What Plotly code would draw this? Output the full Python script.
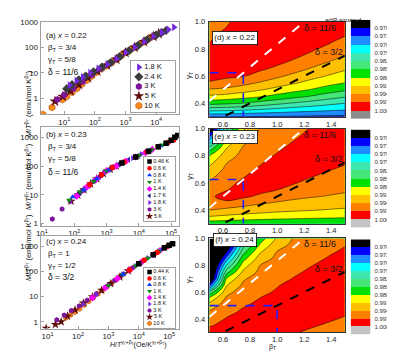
import plotly.graph_objects as go

W, H = 395, 351
FONT = "Liberation Sans, Arial, sans-serif"

# ======================= DATA =======================
# ---- panel (a)  x = 0.22 : M/T^beta vs H/T^(gamma+beta) ----
a_names = ["1.8 K", "2.4 K", "3 K", "5 K", "10 K"]
a_x_1p8 = [15, 25, 40, 70, 130, 250, 500, 1000, 2000, 4000, 8000, 15000, 25000, 38000]
a_y_1p8 = [3.3, 4.9, 6.9, 10.2, 14.8, 21.4, 35.5, 63, 100, 166, 269, 380, 500, 617]
a_x_2p4 = [12, 18, 30, 50, 90, 170, 330, 650, 1300, 2600, 5200, 10000, 15000, 21000]
a_y_2p4 = [2.4, 3.5, 5.4, 7.6, 11.2, 17, 25.7, 43.6, 74, 120, 204, 302, 380, 457]
a_x_3 = [6, 10, 20, 40, 80, 160, 320, 640, 1300, 2500, 5000, 10000, 16000]
a_y_3 = [0.91, 1.38, 2.45, 4.6, 8.5, 14.8, 24.5, 43, 74, 118, 195, 302, 389]
a_x_5 = [5, 9, 16, 30, 60, 120, 250, 500, 1000, 2000, 4000, 8000, 12000]
a_y_5 = [0.78, 1.2, 2.0, 3.5, 6.5, 11.7, 20, 34, 62, 100, 166, 269, 339]
a_x_10 = [2.0, 4.0, 8.7, 12, 18, 26, 38, 55, 80, 115, 165, 240, 350, 500, 720, 1000,
          1400, 2000, 2800, 3900, 5200, 7000]
a_y_10 = [0.24, 0.45, 0.91, 1.2, 1.78, 2.5, 3.7, 5.2, 7.6, 10.7, 14.5, 19, 25, 34, 47, 63,
          79, 100, 129, 162, 204, 251]

# ---- panel (b)  x = 0.23 ----
b_names = ["0.46 K", "0.6 K", "0.8 K", "1 K", "1.4 K", "1.7 K", "1.8 K", "3 K", "5 K"]
b_x_046 = [3000, 8000, 20000, 40000, 70000, 100000, 130000, 160000]
b_y_046 = [129, 209, 331, 468, 617, 794, 1000, 1148]
b_x_06 = [300, 700, 1500, 3500, 8000, 18000, 40000, 80000, 120000]
b_y_06 = [23, 50, 87, 138, 209, 316, 468, 661, 813]
b_x_08 = [90, 200, 500, 1200, 3000, 8000, 20000, 45000, 80000]
b_y_08 = [8.5, 15, 36, 74, 129, 209, 331, 501, 661]
b_x_1 = [70, 150, 400, 1000, 3000, 10000, 25000, 40000, 55000, 70000]
b_y_1 = [6.6, 13, 29.5, 68, 129, 234, 372, 468, 550, 617]
b_x_14 = [120, 250, 500, 1000, 2000, 4000, 8000, 16000, 26000]
b_y_14 = [9.1, 19, 36, 68, 100, 148, 209, 295, 380]
b_x_17 = [150, 300, 600, 1200, 2400, 4800, 9600, 18000]
b_y_17 = [11.5, 23, 43, 74, 112, 166, 229, 316]
b_x_18 = [200, 400, 800, 1600, 3200, 6400, 12000, 20000]
b_y_18 = [15, 29.5, 55, 89, 132, 190, 257, 331]
b_x_3 = [21, 42, 75, 120, 180, 280, 420, 650, 1000, 1585, 2512, 3548]
b_y_3 = [1.45, 3.2, 6.0, 9.5, 13.8, 20, 30, 45, 67.6, 89, 115, 138]
b_x_5 = [80, 130, 200, 320, 500, 800, 1300, 2000]
b_y_5 = [6.0, 9.8, 15, 24, 36, 55, 78, 100]

# ---- panel (c)  x = 0.24 ----
c_names = ["0.44 K", "0.6 K", "0.8 K", "1 K", "1.4 K", "1.8 K", "3 K", "5 K", "10 K"]
c_x_044 = [10000, 30000, 70000, 100000, 130000]
c_y_044 = [200, 457, 871, 1096, 1259]
c_x_06 = [5000, 15000, 40000, 70000, 90000]
c_y_06 = [115, 275, 562, 871, 1000]
c_x_08 = [3000, 10000, 30000, 60000, 80000]
c_y_08 = [76, 200, 457, 776, 933]
c_x_1 = [1000, 3000, 8000, 20000, 32000, 40000, 50000]
c_y_1 = [27.5, 76, 166, 339, 479, 562, 676]
c_x_14 = [300, 800, 2000, 5000, 12000, 30000, 50000]
c_y_14 = [8.9, 22.4, 52, 115, 229, 457, 676]
c_x_18 = [150, 400, 1000, 3000, 8000, 20000, 45000]
c_y_18 = [5.0, 11.5, 27.5, 76, 166, 339, 617]
c_x_3 = [20, 35, 60, 110, 200, 400, 800, 1600, 3200, 6400, 12000]
c_y_3 = [1.2, 1.82, 2.75, 4.27, 7.1, 12.9, 24, 43.6, 79, 141, 224]
c_x_5 = [9, 18, 28, 45, 80, 150, 300, 600, 1200, 2400, 4500]
c_y_5 = [0.55, 0.78, 1.0, 1.66, 2.95, 5.5, 9.8, 17.8, 33, 60, 105]
c_x_10 = [40, 56, 79, 112, 158, 224, 316, 447, 631, 891, 1259, 1778, 2512]
c_y_10 = [1.45, 1.86, 2.45, 3.3, 4.7, 6.6, 9.3, 12.9, 17.8, 24.5, 33.9, 46.8, 64.6]

log_tickvals = [10, 100, 1000, 10000, 100000]
log_ticktext = ["10<sup>1</sup>", "10<sup>2</sup>", "10<sup>3</sup>", "10<sup>4</sup>", "10<sup>5</sup>"]
m_tickvals = [1, 10, 100, 1000]

# ---- adjusted R-squared maps (columns = beta_T, rows = gamma_T) ----
beta_grid = [0.5, 0.625, 0.75, 0.875, 1.0, 1.125, 1.25, 1.375, 1.5]
gamma_grid = [0.30, 0.35, 0.40, 0.45, 0.50, 0.55, 0.60, 0.65, 0.70, 0.75, 0.80, 0.85, 0.90, 0.95, 1.00]

d_adjr2 = [
    [.97300, .97987, .98599, .99043, .99370, .99682, .99766, .99838, .99910, .99835, .99760, .99693, .99655, .99616, .99580],
    [.97300, .97960, .98557, .98992, .99316, .99613, .99742, .99802, .99865, .99925, .99871, .99817, .99763, .99709, .99670],
    [.97285, .97912, .98488, .98911, .99226, .99493, .99712, .99769, .99826, .99883, .99940, .99903, .99865, .99828, .99790],
    [.97270, .97849, .98383, .98818, .99124, .99370, .99598, .99730, .99787, .99844, .99898, .99955, .99928, .99903, .99850],
    [.97270, .97789, .98269, .98704, .99007, .99244, .99454, .99646, .99739, .99793, .99847, .99901, .99955, .99940, .99910],
    [.97255, .97732, .98164, .98590, .98893, .99127, .99322, .99499, .99661, .99742, .99793, .99847, .99901, .99955, .99940],
    [.97240, .97684, .98071, .98476, .98788, .99007, .99196, .99367, .99514, .99655, .99736, .99787, .99838, .99889, .99940],
    [.97234, .97639, .97981, .98347, .98662, .98893, .99082, .99238, .99391, .99517, .99640, .99730, .99790, .99850, .99910],
    [.97225, .97600, .97900, .98233, .98551, .98800, .98968, .99127, .99265, .99400, .99508, .99613, .99715, .99799, .99880],
]
e_adjr2 = [
    [.98614, .99076, .99400, .99655, .99640, .99517, .99433, .99319, .99181, .99013, .98800, .98380, .97780, .97174, .96550],
    [.98596, .99028, .99319, .99622, .99820, .99679, .99607, .99535, .99466, .99388, .99256, .99112, .98929, .98629, .98080],
    [.98575, .98986, .99256, .99520, .99745, .99853, .99766, .99676, .99616, .99559, .99499, .99439, .99355, .99214, .99058],
    [.98557, .98953, .99211, .99424, .99655, .99769, .99853, .99823, .99739, .99673, .99622, .99571, .99520, .99469, .99415],
    [.98545, .98923, .99169, .99361, .99541, .99706, .99778, .99853, .99865, .99796, .99724, .99667, .99613, .99562, .99511],
    [.98533, .98899, .99139, .99313, .99469, .99604, .99718, .99778, .99835, .99895, .99835, .99772, .99712, .99661, .99610],
    [.98524, .98878, .99112, .99271, .99421, .99523, .99628, .99715, .99766, .99814, .99865, .99871, .99814, .99757, .99715],
    [.98515, .98860, .99085, .99238, .99385, .99478, .99562, .99649, .99718, .99766, .99814, .99862, .99853, .99805, .99760],
    [.98500, .98842, .99058, .99208, .99346, .99442, .99517, .99589, .99661, .99721, .99763, .99805, .99847, .99844, .99805],
]
f_adjr2 = [
    [.99880, .99673, .99559, .99448, .99235, .98923, .98272, .97174, .96400, .96250, .96100, .95950, .95800, .95650, .95500],
    [.99895, .99808, .99721, .99634, .99544, .99454, .99313, .99082, .98800, .98365, .97891, .97405, .96955, .96460, .96100],
    [.99910, .99853, .99799, .99742, .99682, .99607, .99535, .99460, .99364, .99172, .98953, .98692, .98395, .98092, .97756],
    [.99910, .99871, .99829, .99790, .99751, .99709, .99655, .99592, .99529, .99466, .99403, .99241, .99067, .98854, .98635],
    [.99910, .99880, .99847, .99817, .99787, .99754, .99724, .99688, .99631, .99577, .99523, .99469, .99412, .99289, .99145],
    [.99712, .99760, .99811, .99859, .99910, .99862, .99811, .99763, .99712, .99664, .99616, .99568, .99517, .99469, .99421],
    [.99667, .99718, .99763, .99808, .99856, .99901, .99874, .99826, .99781, .99736, .99691, .99646, .99604, .99559, .99517],
    [.99625, .99676, .99724, .99766, .99808, .99853, .99895, .99883, .99841, .99796, .99754, .99712, .99670, .99631, .99592],
    [.99580, .99631, .99682, .99727, .99769, .99808, .99847, .99889, .99892, .99850, .99811, .99772, .99730, .99691, .99655],
]

level_start, level_end, level_step = 0.970, 1.000, 0.003
cb_labels = ["0.9700", "0.9730", "0.9760", "0.9790", "0.9820", "0.9850",
             "0.9880", "0.9910", "0.9940", "0.9970", "1.000"]
band_colors = ["#000000", "#0000ff", "#1e8cff", "#00ffff", "#3ee6b0", "#44e67a",
               "#00e000", "#ffff00", "#ffc000", "#ff8000", "#ff0000"]
gray_top = ["#8c8c8c", "#c4c4c4", "#c4c4c4"]

delta_lines = [11 / 6, 3 / 2]          # delta = 1 + gamma/beta
delta_text = ["δ = 11/6", "δ = 3/2"]
best_points = [(0.75, 0.625), (0.75, 0.625), (1.0, 0.5)]   # (beta_T, gamma_T) chosen
panel_x = ["0.22", "0.23", "0.24"]
exps_beta = ["3/4", "3/4", "1"]
exps_gamma = ["5/8", "5/8", "1/2"]
exps_delta = ["11/6", "11/6", "3/2"]

# ======================= STYLE =======================
STY = {
    "0.44 K": ("square", "#000000", 0), "0.46 K": ("square", "#000000", 0),
    "0.6 K": ("circle", "#ff0000", 0), "0.8 K": ("triangle-up", "#0a3cff", 0),
    "1 K": ("triangle-down", "#0c8a0c", 0), "1.4 K": ("diamond", "#ff00ff", 0),
    "1.7 K": ("triangle-left", "#1f1f8f", 0), "1.8 K": ("triangle-right", "#7428e0", 0),
    "2.4 K": ("diamond", "#3c3c3c", 0), "3 K": ("hexagon", "#7d1598", 0),
    "5 K": ("star", "#5e0c0c", 0), "10 K": ("hexagon", "#ff8a1c", 1),
}


def px2fx(p):
    return p / W


def px2fy(p):
    return 1 - p / H


fig = go.Figure()

# ---------------- left column scatter panels ----------------
left = [
    ("", a_names, [(a_x_1p8, a_y_1p8), (a_x_2p4, a_y_2p4), (a_x_3, a_y_3), (a_x_5, a_y_5), (a_x_10, a_y_10)],
     7.0, (10, 104), [0.23, 4.74], [-0.6, 3.0]),
    ("2", b_names, [(b_x_046, b_y_046), (b_x_06, b_y_06), (b_x_08, b_y_08), (b_x_1, b_y_1), (b_x_14, b_y_14),
                    (b_x_17, b_y_17), (b_x_18, b_y_18), (b_x_3, b_y_3), (b_x_5, b_y_5)],
     5.5, (117, 218), [0.96, 5.24], [-0.07, 3.37]),
    ("3", c_names, [(c_x_044, c_y_044), (c_x_06, c_y_06), (c_x_08, c_y_08), (c_x_1, c_y_1), (c_x_14, c_y_14),
                    (c_x_18, c_y_18), (c_x_3, c_y_3), (c_x_5, c_y_5), (c_x_10, c_y_10)],
     5.5, (229, 323), [0.77, 5.32], [-0.27, 3.39]),
]
layout_axes = {}
for k, (sfx, names, data, msize, (top, bot), xr, yr) in enumerate(left):
    xa, ya = "x" + sfx, "y" + sfx
    order = list(range(len(names)))[::-1]
    for i in order:
        sym, col, edge = STY[names[i]]
        fig.add_trace(go.Scatter(
            x=data[i][0], y=data[i][1], mode="markers", xaxis=xa, yaxis=ya,
            marker=dict(symbol=sym, size=msize + (1.5 if sym == "star" else 0), color=col,
                        line=dict(width=0.6 if edge else 0, color="#b05400")),
            showlegend=False, hoverinfo="skip"))
    common = dict(showline=True, mirror=True, linecolor="#a0a0a0", linewidth=1,
                  ticks="inside", ticklen=3, tickcolor="#a0a0a0", showgrid=False,
                  zeroline=False, tickfont=dict(size=8, color="#222", family=FONT))
    layout_axes["xaxis" + sfx] = dict(type="log", range=xr, domain=[px2fx(28), px2fx(168)],
                                      anchor=ya, tickvals=log_tickvals, ticktext=log_ticktext,
                                      ticklabelstandoff=0, **common)
    layout_axes["yaxis" + sfx] = dict(type="log", range=yr, domain=[px2fy(bot), px2fy(top)],
                                      anchor=xa, tickvals=m_tickvals, **common)

# ---------------- legends drawn as small subplots ----------------
legend_boxes = [((120, 164, 50, 102), a_names, 7.0, 7.5),
                ((133, 164, 148, 213), b_names, 4.5, 5.5),
                ((133, 164, 261, 322), c_names, 4.5, 5.5)]
for j, ((x0, x1, y0, y1), names, msz, fsz) in enumerate(legend_boxes):
    sfx = str(10 + j)
    n = len(names)
    for i, nm in enumerate(names):
        sym, col, edge = STY[nm]
        fig.add_trace(go.Scatter(
            x=[0.17], y=[i], mode="markers+text", text=[nm], textposition="middle right",
            textfont=dict(size=fsz, color="#111", family=FONT),
            marker=dict(symbol=sym, size=msz + (1 if sym == "star" else 0), color=col,
                        line=dict(width=0.6 if edge else 0, color="#b05400")),
            xaxis="x" + sfx, yaxis="y" + sfx, showlegend=False, hoverinfo="skip"))
    layout_axes["xaxis" + sfx] = dict(domain=[px2fx(x0), px2fx(x1)], range=[0, 1], anchor="y" + sfx,
                                      showticklabels=False, ticks="", showgrid=False, zeroline=False,
                                      showline=True, mirror=True, linecolor="#a0a0a0", linewidth=1)
    layout_axes["yaxis" + sfx] = dict(domain=[px2fy(y1), px2fy(y0)], range=[n - 0.35, -0.65],
                                      anchor="x" + sfx, showticklabels=False, ticks="", showgrid=False,
                                      zeroline=False, showline=True, mirror=True, linecolor="#a0a0a0",
                                      linewidth=1)

# ---------------- contour panels ----------------
right_rows = [(10, 107), (119, 216), (231, 327)]
cb_rows = [(8, 109), (120, 220), (232, 329)]
maps = [d_adjr2, e_adjr2, f_adjr2]
for k in range(3):
    sfx = str(4 + k)
    xa, ya = "x" + sfx, "y" + sfx
    colors = band_colors + [gray_top[k]]
    nb = len(colors) - 1
    cscale = [[i / nb, c] for i, c in enumerate(colors)]
    fig.add_trace(go.Contour(
        x=beta_grid, y=gamma_grid, z=maps[k], transpose=True, autocontour=False,
        contours=dict(start=level_start, end=level_end, size=level_step, coloring="fill",
                      showlines=True),
        line=dict(color="black", width=0.5, smoothing=1.0),
        colorscale=cscale, showscale=False, xaxis=xa, yaxis=ya, hoverinfo="skip"))
    for dl, dcol in zip(delta_lines, ["white", "black"]):
        fig.add_trace(go.Scatter(
            x=[beta_grid[0], beta_grid[-1]], y=[(dl - 1) * beta_grid[0], (dl - 1) * beta_grid[-1]],
            mode="lines", line=dict(color=dcol, width=2, dash="dash"), xaxis=xa, yaxis=ya,
            showlegend=False, hoverinfo="skip"))
    bb, gg = best_points[k]
    fig.add_trace(go.Scatter(
        x=[beta_grid[0], bb, bb], y=[gg, gg, gamma_grid[0]], mode="lines",
        line=dict(color="#1f1fff", width=1.6, dash="dash"), xaxis=xa, yaxis=ya,
        showlegend=False, hoverinfo="skip"))
    top, bot = right_rows[k]
    layout_axes["xaxis" + sfx] = dict(
        range=[0.5, 1.5], domain=[px2fx(199), px2fx(336)], anchor=ya,
        tickvals=[0.6, 0.8, 1.0, 1.2, 1.4], tickformat=".1f", ticks="", showgrid=False,
        zeroline=False, showline=True, mirror=True, linecolor="#333", linewidth=0.6,
        tickfont=dict(size=7.5, color="#222", family=FONT), ticklabelstandoff=0)
    layout_axes["yaxis" + sfx] = dict(
        range=[0.3, 1.0], domain=[px2fy(bot), px2fy(top)], anchor=xa,
        tickvals=[0.4, 0.6, 0.8, 1.0], tickformat=".1f", ticks="", showgrid=False,
        zeroline=False, showline=True, mirror=True, linecolor="#333", linewidth=0.6,
        tickfont=dict(size=7.5, color="#222", family=FONT), ticklabelstandoff=2)
    cs2 = str(7 + k)
    cb_colors = colors
    fig.add_trace(go.Heatmap(
        x=[0], y=list(range(len(cb_colors))), z=[[i] for i in range(len(cb_colors))],
        colorscale=[[i / (len(cb_colors) - 1), c] for i, c in enumerate(cb_colors)],
        zmin=0, zmax=len(cb_colors) - 1, showscale=False, xaxis="x" + cs2, yaxis="y" + cs2,
        hoverinfo="skip", ygap=0))
    ct, cbm = cb_rows[k]
    layout_axes["xaxis" + cs2] = dict(domain=[px2fx(342), px2fx(362)], anchor="y" + cs2,
                                      range=[-0.5, 0.5], visible=False)
    layout_axes["yaxis" + cs2] = dict(domain=[px2fy(cbm), px2fy(ct)], anchor="x" + cs2,
                                      range=[len(cb_colors) - 0.5, -0.5], side="right",
                                      tickvals=[i + 0.5 for i in range(len(cb_labels))],
                                      ticktext=cb_labels, ticks="", showgrid=False, zeroline=False,
                                      showline=False, ticklabelstandoff=3,
                                      tickfont=dict(size=6, color="#333", family=FONT))

# ---------------- annotations ----------------
ann = []


def txt(x, y, s, size=8, **kw):
    d = dict(x=px2fx(x), y=px2fy(y), xref="paper", yref="paper", text=s, showarrow=False,
             font=dict(size=size, color="#111", family=FONT))
    d.update(kw)
    ann.append(d)


labels_l = ["(a)", "(b)", "(c)"]
labels_r = ["(d)", "(e)", "(f)"]
left_text_rows = [(17, 30, 42, 54), (125, 138, 150, 163), (241, 254, 266, 278)]
for k in range(3):
    r0, r1, r2, r3 = left_text_rows[k]
    txt(31, r0, f"{labels_l[k]} <i>x</i> = {panel_x[k]}", 8, xanchor="left")
    txt(33, r1, f"β<sub>T</sub> = {exps_beta[k]}", 8, xanchor="left")
    txt(33, r2, f"γ<sub>T</sub> = {exps_gamma[k]}", 8, xanchor="left")
    txt(33, r3, f"δ = {exps_delta[k]}", 8.5, xanchor="left")
    top, bot = left[k][4]
    txt(8, (top + bot) / 2, "<i>M</i>/<i>T</i><sup>β<sub>T</sub></sup> (emu/mol K<sup>β<sub>T</sub></sup>)",
        7.5, textangle=-90)
    rt, rb = right_rows[k]
    txt(225, rt + 9, f"{labels_r[k]} <i>x</i> = {panel_x[k]}", 8, bgcolor="white",
        bordercolor="black", borderwidth=0.8, borderpad=1.5)
    txt(179, (rt + rb) / 2, "γ<sub>T</sub>", 8, textangle=-90)
    ann.append(dict(x=1.315, y=0.955, xref="x" + str(4 + k), yref="y" + str(4 + k), text=delta_text[0],
                    showarrow=False, font=dict(size=9, color="#111", family=FONT)))
    ann.append(dict(x=1.385, y=0.775, xref="x" + str(4 + k), yref="y" + str(4 + k), text=delta_text[1],
                    showarrow=False, font=dict(size=9, color="#111", family=FONT)))

txt(96, 345.5, "<i>H</i>/<i>T</i><sup>γ<sub>T</sub>+β<sub>T</sub></sup>(Oe/K<sup>γ<sub>T</sub>+β<sub>T</sub></sup>)", 7)
txt(268, 347.5, "β<sub>T</sub>", 7)
txt(354, 3.5, "adjR-squared", 6)

fig.update_layout(
    width=W, height=H, margin=dict(l=0, r=0, t=0, b=0), paper_bgcolor="white",
    plot_bgcolor="white", showlegend=False, font=dict(family=FONT, size=8, color="#111"),
    annotations=ann, **layout_axes)

fig.write_html("out.html")
